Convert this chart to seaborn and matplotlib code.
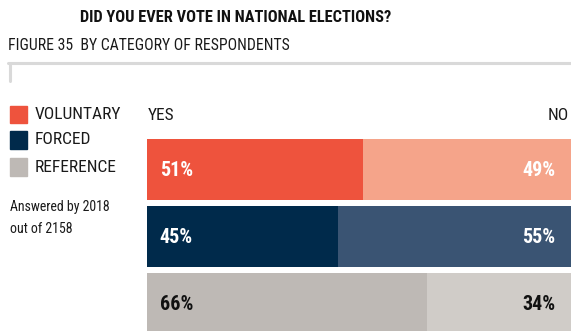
import matplotlib
matplotlib.use("Agg")
import matplotlib.pyplot as plt
from matplotlib.lines import Line2D
from matplotlib.patches import Rectangle
import seaborn as sns
import pandas as pd

categories = ["VOLUNTARY", "FORCED", "REFERENCE"]
yes_values = [51, 45, 66]
no_values = [49, 55, 34]
yes_colors = ["#EE533D", "#002A4B", "#BEB9B5"]
no_colors = ["#F5A48A", "#3A5473", "#D0CCC8"]
label_colors = ["white", "white", "#111111"]

sns.set_theme(style="white")
FONT = ["Roboto Condensed", "DejaVu Sans"]
plt.rcParams["font.family"] = FONT

W, H = 571, 331
fig = plt.figure(figsize=(W / 100, H / 100), dpi=100)

def fx(px):
    return px / W

def fy(py):
    return 1 - py / H

# axes: x 147..571 px, y 130..331 px
ax = fig.add_axes([fx(147), 0, fx(571 - 147), (331 - 130) / H])

df = pd.DataFrame({"category": categories,
                   "yes": yes_values,
                   "total": [y + n for y, n in zip(yes_values, no_values)]})

sns.barplot(data=df, x="total", y="category", hue="category",
            palette=dict(zip(categories, no_colors)), width=0.91,
            dodge=False, legend=False, ax=ax, saturation=1, linewidth=0)
sns.barplot(data=df, x="yes", y="category", hue="category",
            palette=dict(zip(categories, yes_colors)), width=0.91,
            dodge=False, legend=False, ax=ax, saturation=1, linewidth=0)

pitch = 67.0
ax.set_xlim(0, 100)
ax.set_ylim((331 - 169.5) / pitch, -(169.5 - 130) / pitch)
ax.axis("off")

for i, (yv, nv) in enumerate(zip(yes_values, no_values)):
    ax.text(3.0, i + 0.02, f"{yv}%", color=label_colors[i], fontsize=14.5,
            fontweight="bold", va="center", ha="left", family=FONT)
    ax.text(96.3, i + 0.02, f"{nv}%", color=label_colors[i], fontsize=14.5,
            fontweight="bold", va="center", ha="right", family=FONT)

TXT = "#1a1a1a"
# Titles
fig.text(fx(80), fy(18), "DID YOU EVER VOTE IN NATIONAL ELECTIONS?",
         fontsize=11.8, fontweight="bold", va="center", ha="left", color="#111111")
fig.text(fx(8), fy(46), "FIGURE 35  BY CATEGORY OF RESPONDENTS",
         fontsize=11.3, fontweight="normal", va="center", ha="left", color=TXT)

# bracket line
fig.add_artist(Line2D([fx(8), fx(571)], [fy(62.5), fy(62.5)], color="#D9D9D9", lw=2.2))
fig.add_artist(Line2D([fx(10), fx(10)], [fy(62.5), fy(81)], color="#D9D9D9", lw=2.2))

# Legend
leg_y = [114.5, 140, 167]
for cat, col, y in zip(categories, yes_colors, leg_y):
    fig.add_artist(Rectangle((fx(10), fy(y + 8.5)), fx(17.5), 17.5 / H,
                             color=col, transform=fig.transFigure))
    fig.text(fx(35), fy(y), cat, fontsize=12.5, fontweight="normal",
             va="center", ha="left", color=TXT)

fig.text(fx(148), fy(115), "YES", fontsize=12.5, fontweight="normal",
         va="center", ha="left", color=TXT)
fig.text(fx(569), fy(115), "NO", fontsize=12.5, fontweight="normal",
         va="center", ha="right", color=TXT)

fig.text(fx(10), fy(207), "Answered by 2018", fontsize=10, va="center", ha="left", color=TXT)
fig.text(fx(10), fy(229), "out of 2158", fontsize=10, va="center", ha="left", color=TXT)

fig.savefig("out.png", dpi=100)
